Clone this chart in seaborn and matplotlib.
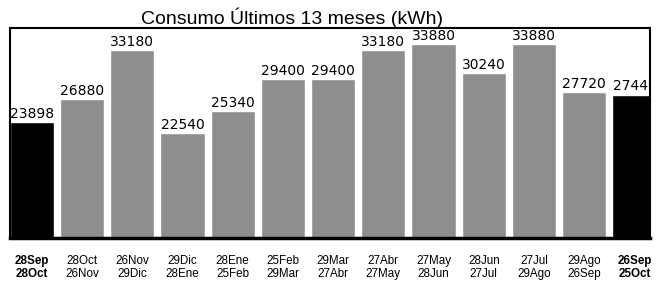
import matplotlib
matplotlib.use("Agg")
import matplotlib.pyplot as plt
import seaborn as sns
import pandas as pd

periods_start = ["28Sep", "28Oct", "26Nov", "29Dic", "28Ene", "25Feb", "29Mar",
                 "27Abr", "27May", "28Jun", "27Jul", "29Ago", "26Sep"]
periods_end = ["28Oct", "26Nov", "29Dic", "28Ene", "25Feb", "29Mar", "27Abr",
               "27May", "28Jun", "27Jul", "29Ago", "26Sep", "25Oct"]
consumo = [23898, 26880, 33180, 22540, 25340, 29400, 29400,
           33180, 33880, 30240, 33880, 27720, 27440]
title = "Consumo Últimos 13 meses (kWh)"

labels = [f"{a}\n{b}" for a, b in zip(periods_start, periods_end)]
df = pd.DataFrame({"periodo": labels, "kwh": consumo})
colors = ["#000000"] + ["#8e8e8e"] * 11 + ["#000000"]

sns.set_theme(style="white")
plt.rcParams["font.family"] = ["Liberation Sans", "DejaVu Sans"]

fig = plt.figure(figsize=(6.65, 2.87), dpi=100)
ax = fig.add_axes([10 / 665, 1 - 238 / 287, 640 / 665, 210 / 287])

sns.barplot(data=df, x="periodo", y="kwh", hue="periodo", palette=colors,
            legend=False, width=0.88, saturation=1, ax=ax)

ax.set_xlim(-0.434, 12.31)
ax.set_ylim(9000, 36000)
ax.set_xlabel("")
ax.set_ylabel("")
ax.set_yticks([])

for i, v in enumerate(consumo):
    ax.annotate(str(v), xy=(i, v), xytext=(0, 3), textcoords="offset points",
                ha="center", va="baseline", fontsize=10,
                family="DejaVu Sans", color="black",
                annotation_clip=False, clip_on=True)

ax.tick_params(axis="x", length=0, pad=12.5)
for i, t in enumerate(ax.get_xticklabels()):
    t.set_fontsize(8.4)
    t.set_color("black")
    t.set_linespacing(1.1)
    t.set_fontweight("bold" if i in (0, len(consumo) - 1) else "normal")

for name, sp in ax.spines.items():
    sp.set_visible(True)
    sp.set_color("black")
    sp.set_linewidth(1.5)
ax.spines["bottom"].set_linewidth(2.5)

fig.text(292 / 665, 1 - 24 / 287, title, ha="center", va="baseline",
         fontsize=14, color="black")

fig.savefig("out.png", dpi=100)
